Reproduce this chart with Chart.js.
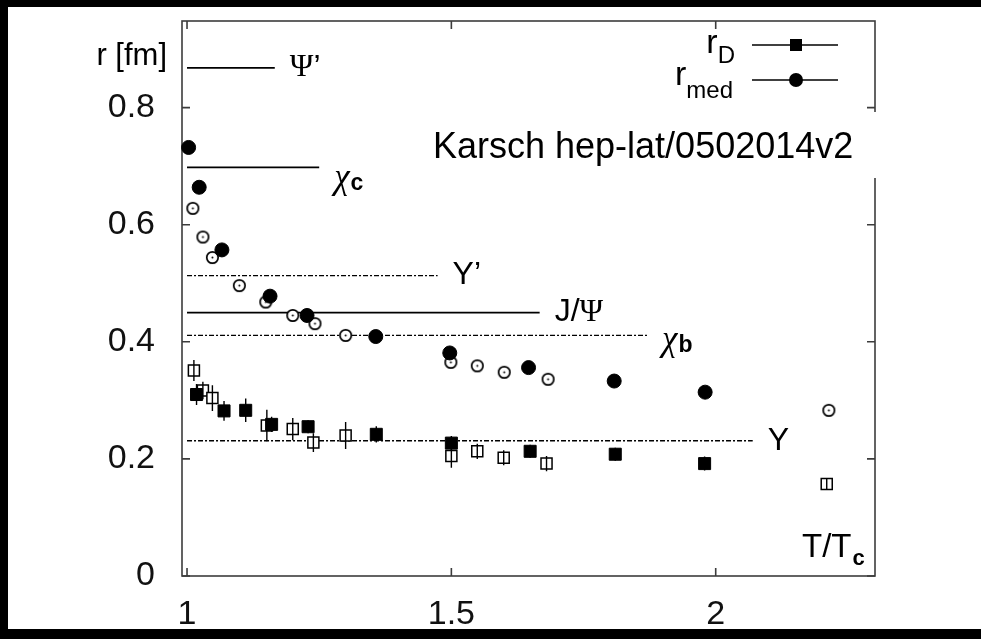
<!DOCTYPE html>
<html>
<head>
<meta charset="utf-8">
<script src="https://cdn.jsdelivr.net/npm/chart.js@4/dist/chart.umd.min.js"></script>
<style>
  html, body { margin: 0; padding: 0; background: #000; }
  #wrap { position: absolute; left: 8px; top: 7px; width: 973px; height: 622px; background: #fff; }
  canvas { display: block; }
</style>
</head>
<body>
<div id="wrap"><canvas id="c" width="973" height="622"></canvas></div>
<script>
// Screening radius r_D and medium radius r_med versus T/Tc (fm)
const medT      = [1.003, 1.023, 1.066, 1.157, 1.227, 1.357, 1.497, 1.646, 1.808, 1.980];
const medR      = [0.732, 0.664, 0.557, 0.478, 0.445, 0.409, 0.381, 0.356, 0.333, 0.314];

const med2T     = [1.011, 1.030, 1.048, 1.099, 1.149, 1.200, 1.242, 1.300, 1.499, 1.549, 1.600, 1.683, 2.214];
const med2R     = [0.628, 0.579, 0.544, 0.496, 0.468, 0.445, 0.431, 0.411, 0.365, 0.359, 0.348, 0.336, 0.283];

const debyeT    = [1.018, 1.070, 1.111, 1.160, 1.229, 1.358, 1.500, 1.649, 1.810, 1.979];
const debyeR    = [0.310, 0.282, 0.283, 0.259, 0.255, 0.242, 0.227, 0.213, 0.208, 0.192];
const debyeErr  = [0.018, 0.017, 0.020, 0.013, 0.011, 0.014, 0.012, 0.011, 0.011, 0.012];

const debye2T   = [1.013, 1.030, 1.048, 1.151, 1.200, 1.239, 1.300, 1.500, 1.549, 1.599, 1.680, 2.210];
const debye2R   = [0.351, 0.317, 0.304, 0.257, 0.251, 0.228, 0.240, 0.205, 0.213, 0.202, 0.192, 0.157];
const debye2Err = [0.018, 0.015, 0.022, 0.027, 0.019, 0.016, 0.023, 0.020, 0.013, 0.013, 0.013, 0.009];

// quarkonium radii (horizontal reference levels)
const stateNames = ['Ψ’', 'χ', 'Υ’', 'J/Ψ', 'χ', 'Υ'];
const stateSubs  = ['', 'c', '', '', 'b', ''];
const stateR     = [0.868, 0.698, 0.513, 0.450, 0.411, 0.231];
const stateTo    = [1.166, 1.250, 1.474, 1.667, 1.870, 2.070];
const stateDash  = [false, false, true, false, true, true];
const stateFrom  = 1.0;

const xTicks = [1, 1.5, 2];
const xTickLabels = ['1', '1.5', '2'];
const yTicks = [0, 0.2, 0.4, 0.6, 0.8];
const yTickLabels = ['0', '0.2', '0.4', '0.6', '0.8'];

const legendNames = [['r', 'D'], ['r', 'med']];
const xTitle = ['T/T', 'c'];
const yTitle = 'r [fm]';
const sourceNote = 'Karsch hep-lat/0502014v2';

const SANS = '"Liberation Sans", Arial, sans-serif';
const SERIF = '"Liberation Serif", "Times New Roman", serif';

const pts = (xs, ys) => xs.map((x, i) => ({ x, y: ys[i] }));
function errorSegments(xs, ys, es) {
  const out = [];
  xs.forEach((x, i) => {
    out.push({ x, y: ys[i] - es[i] }, { x, y: ys[i] + es[i] }, { x, y: null });
  });
  return out;
}

// open circle with a centre dot
const openDot = document.createElement('canvas');
openDot.width = 15; openDot.height = 15;
{
  const g = openDot.getContext('2d');
  g.beginPath(); g.arc(7.5, 7.5, 5.7, 0, Math.PI * 2);
  g.fillStyle = '#fff'; g.fill();
  g.lineWidth = 1.7; g.strokeStyle = '#000'; g.stroke();
  g.beginPath(); g.arc(7.5, 7.5, 1, 0, Math.PI * 2);
  g.fillStyle = '#000'; g.fill();
}

const datasets = [
  { label: 'rD', data: pts(debyeT, debyeR), pointStyle: 'rect', pointRadius: 8.5,
    backgroundColor: '#000', borderColor: '#000', borderWidth: 1, showLine: false, clip: false },
  { label: 'rmed', data: pts(medT, medR), pointStyle: 'circle', pointRadius: 7,
    backgroundColor: '#000', borderColor: '#000', borderWidth: 1, showLine: false, clip: false },
  { label: 'rD2 err', data: errorSegments(debye2T, debye2R, debye2Err), showLine: true,
    borderColor: '#000', borderWidth: 1.4, pointRadius: 0, spanGaps: false, clip: false },
  { label: 'rD2', data: pts(debye2T, debye2R), pointStyle: 'rect', pointRadius: 7.8,
    backgroundColor: '#fff', borderColor: '#000', borderWidth: 1.5, showLine: false, clip: false },
  { label: 'rmed2', data: pts(med2T, med2R), pointStyle: openDot, pointRadius: 6,
    showLine: false, clip: false },
  { label: 'rD err', data: errorSegments(debyeT, debyeR, debyeErr), showLine: true,
    borderColor: '#000', borderWidth: 1.4, pointRadius: 0, spanGaps: false, clip: false }
];
stateR.forEach((r, i) => {
  datasets.push({
    label: 'state' + i,
    data: [{ x: stateFrom, y: r }, { x: stateTo[i], y: r }],
    showLine: true, pointRadius: 0, borderColor: '#000',
    borderWidth: stateDash[i] ? 1.3 : 1.7,
    borderDash: stateDash[i] ? [5, 2, 2, 2] : []
  });
});

const decorations = {
  id: 'decorations',
  beforeDatasetsDraw(chart) {
    const { ctx, chartArea: a, scales: { x, y } } = chart;
    ctx.save();
    ctx.strokeStyle = '#3c3c3c';
    ctx.lineWidth = 1.6;
    ctx.strokeRect(a.left, a.top, a.right - a.left, a.bottom - a.top);
    ctx.beginPath();
    xTicks.forEach(v => {
      const p = x.getPixelForValue(v);
      ctx.moveTo(p, a.bottom); ctx.lineTo(p, a.bottom - 8);
      ctx.moveTo(p, a.top); ctx.lineTo(p, a.top + 8);
    });
    yTicks.forEach(v => {
      const p = y.getPixelForValue(v);
      ctx.moveTo(a.left, p); ctx.lineTo(a.left + 8, p);
      ctx.moveTo(a.right, p); ctx.lineTo(a.right - 8, p);
    });
    ctx.stroke();
    ctx.restore();
  },
  afterDatasetsDraw(chart) {
    const { ctx, chartArea: a, scales: { x, y } } = chart;
    ctx.save();
    ctx.fillStyle = '#000';
    ctx.textBaseline = 'middle';
    ctx.textAlign = 'left';
    // state labels at the end of each level
    const shift = [0, 11, 0, 0, 5, 0];
    stateNames.forEach((name, i) => {
      let px = x.getPixelForValue(stateTo[i]) + 15;
      const py = y.getPixelForValue(stateR[i]) + shift[i];
      for (const ch of name) {
        if (ch === 'χ') ctx.font = 'italic 35px ' + SERIF;
        else if (ch === 'Ψ') ctx.font = '32px ' + SERIF;
        else ctx.font = '32px ' + SANS;
        ctx.fillText(ch, px, py);
        px += ctx.measureText(ch).width;
      }
      if (stateSubs[i]) {
        ctx.font = 'bold 23px ' + SANS;
        ctx.fillText(stateSubs[i], px + 1, py + 5);
      }
    });

    // legend
    ctx.textBaseline = 'alphabetic';
    const lx0 = a.right - 123, lx1 = a.right - 37, mx = a.right - 79;
    const rows = [
      { ly: a.top + 24, base: a.top + 32, subBase: a.top + 42, right: a.right - 140 },
      { ly: a.top + 59, base: a.top + 64, subBase: a.top + 77, right: a.right - 142 }
    ];
    rows.forEach((row, i) => {
      ctx.strokeStyle = '#000'; ctx.lineWidth = 1.5;
      ctx.beginPath(); ctx.moveTo(lx0, row.ly); ctx.lineTo(lx1, row.ly); ctx.stroke();
      ctx.fillStyle = '#000';
      ctx.beginPath();
      if (i === 0) ctx.rect(mx - 6, row.ly - 6, 12, 12);
      else ctx.arc(mx, row.ly, 7, 0, Math.PI * 2);
      ctx.fill();
      const [main, sub] = legendNames[i];
      ctx.font = '24px ' + SANS;
      const ws = ctx.measureText(sub).width;
      ctx.textAlign = 'left';
      ctx.fillText(sub, row.right - ws, row.subBase);
      ctx.font = '34px ' + SANS;
      ctx.textAlign = 'right';
      ctx.fillText(main, row.right - ws, row.base);
    });

    // axis titles
    ctx.textAlign = 'right';
    ctx.textBaseline = 'middle';
    ctx.font = '31px ' + SANS;
    ctx.fillText(yTitle, a.left - 15, a.top + 35);
    ctx.textAlign = 'left';
    ctx.textBaseline = 'alphabetic';
    ctx.font = '33px ' + SANS;
    const tx = a.right - 73;
    ctx.fillText(xTitle[0], tx, a.bottom - 19);
    const tw = ctx.measureText(xTitle[0]).width;
    ctx.font = 'bold 22px ' + SANS;
    ctx.fillText(xTitle[1], tx + tw + 1, a.bottom - 11);
    ctx.restore();
  },
  afterDraw(chart) {
    const { ctx, chartArea: a } = chart;
    ctx.save();
    ctx.fillStyle = '#fff';
    ctx.fillRect(417, a.top + 91, a.right + 12 - 417, 66);
    ctx.fillStyle = '#000';
    ctx.font = '36px ' + SANS;
    ctx.textAlign = 'left';
    ctx.textBaseline = 'alphabetic';
    ctx.fillText(sourceNote, 425, a.top + 137);
    ctx.restore();
  }
};

Chart.defaults.font.family = SANS;

new Chart(document.getElementById('c'), {
  type: 'scatter',
  data: { datasets },
  options: {
    responsive: false,
    animation: false,
    devicePixelRatio: 1,
    layout: { padding: { left: 0, top: 14, right: 106, bottom: 0 } },
    plugins: { legend: { display: false }, tooltip: { enabled: false } },
    scales: {
      x: {
        type: 'linear', position: 'bottom', min: 0.9905, max: 2.3013,
        grid: { display: false }, border: { display: false },
        afterBuildTicks: s => { s.ticks = xTicks.map(v => ({ value: v })); },
        afterFit: s => { s.height = 53; s.paddingLeft = 0; s.paddingRight = 0; },
        ticks: { font: { size: 34 }, color: '#111', padding: 10,
                 maxRotation: 0, autoSkip: false,
                 callback: (v, i) => xTickLabels[i] }
      },
      y: {
        type: 'linear', position: 'left', min: 0, max: 0.948,
        grid: { display: false }, border: { display: false },
        afterBuildTicks: s => { s.ticks = yTicks.map(v => ({ value: v })); },
        afterFit: s => { s.width = 174; s.paddingTop = 0; s.paddingBottom = 0; },
        ticks: { font: { size: 34 }, color: '#111', padding: 19, autoSkip: false,
                 callback: (v, i) => yTickLabels[i] }
      }
    }
  },
  plugins: [decorations]
});
</script>
</body>
</html>
